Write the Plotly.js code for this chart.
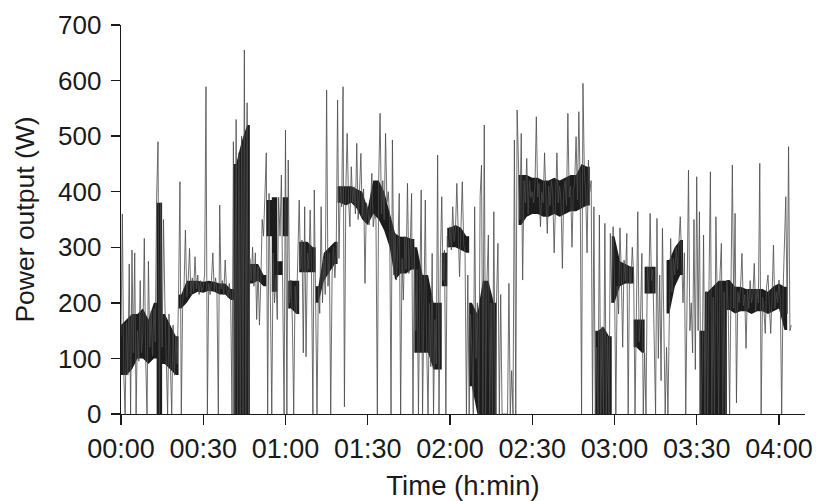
<!DOCTYPE html>
<html>
<head>
<meta charset="utf-8">
<script src="https://cdn.plot.ly/plotly-3.0.1.min.js"></script>
<style>
html,body{margin:0;padding:0;background:#ffffff;}
#chart{width:818px;height:501px;}
</style>
</head>
<body>
<div id="chart"></div>
<script>
// Sampling interval of the recorded power signal (minutes)
const sampleStepMin = 0.5;

// Power output (W), one half hour per array
const p0000 = [140,360,75,0,165,70,270,0,295,110, 290,0,150,95,240,110,145,316,100,0,
  275,120,185,105,190,130,390,490,0,380, 120,350,200,90,0,180,85,0,160,70,
  140,90,215,418,0,200,230,331,210,240, 298,215,245,220,283,225,250,215,240,220];
const p0030 = [230,250,589,0,235,215,240,290,220,245, 218,0,376,225,240,215,277,225,210,235,
  210,0,490,0,530,0,470,0,500,0, 655,0,560,0,280,240,300,230,290,170,
  265,160,240,350,320,385,470,0,397,205, 0,290,200,250,170,390,320,430,200,0];
const p0100 = [511,0,457,200,241,170,0,230,180,300, 385,260,313,110,373,103,290,260,367,250,
  0,403,240,0,229,181,373,200,280,215, 583,230,290,0,250,301,245,290,565,280,
  409,373,589,13,400,505,385,337,445,380, 409,360,487,350,400,469,355,405,235,380];
const p0130 = [370,340,373,433,337,360,350,0,421,541, 360,420,349,505,380,400,350,0,493,250,
  325,241,300,397,0,280,205,319,260,415, 253,300,397,0,301,150,260,0,230,403,
  0,190,385,120,0,199,85,289,0,170, 90,466,0,280,391,240,295,0,320,300];
const p0200 = [337,295,373,310,330,415,300,247,335,418, 305,290,0,250,0,180,110,0,373,100,
  200,0,391,448,0,520,0,241,322,0, 200,0,364,0,211,307,0,215,0,0,
  0,0,0,235,0,78,0,493,0,547, 433,350,505,241,420,380,460,360,420,390];
const p0230 = [400,380,410,535,390,415,337,400,380,470, 390,325,410,375,420,395,290,400,470,380,
  410,385,262,400,420,375,541,390,410,300, 400,420,499,385,544,410,0,595,440,400,
  290,457,400,420,0,373,0,120,0,358, 0,157,0,343,0,140,0,325,200,337];
const p0300 = [250,0,230,180,335,250,120,277,240,325, 0,265,235,300,250,0,200,364,130,170,
  289,0,110,0,265,217,361,240,260,150, 0,352,100,250,60,334,150,0,120,0,
  170,316,220,280,250,300,260,313,355,280, 200,290,0,217,439,150,200,110,350,80];
const p0330 = [427,150,364,0,85,322,0,220,0,240, 436,0,210,0,355,200,0,250,307,0,
  220,0,241,187,0,230,448,190,361,20, 220,200,230,289,195,215,118,225,190,240,
  200,215,271,185,225,200,451,0,210,190, 145,230,250,195,145,215,304,190,220,200];
const p0400 = [241,205,0,220,316,391,180,481,150,160];

// Dense (black) core of the trace, low and high edge (W) every 2 minutes
const bandStepMin = 2;
const bandLow = [70,70,80,100,100,90,100,0,90,80,
  70,190,200,215,220,218,222,220,215,215,
  205,0,0,0,235,240,230,320,220,250,
  320,190,180,255,255,255,200,240,255,270,
  380,375,380,370,350,340,360,350,330,300,
  241,253,253,260,110,110,110,80,80,230,
  300,300,295,290,50,0,0,0,0,0,
  0,0,0,340,355,360,360,355,355,360,
  355,360,365,365,370,375,0,0,0,0,
  200,230,235,235,120,110,217,217,0,0,
  181,229,250,0,0,0,0,0,0,0,
  0,187,181,185,185,180,185,185,180,185,
  190,151,0];
const bandHigh = [160,170,180,180,190,170,200,380,180,160,
  140,215,240,240,240,238,240,238,235,235,
  225,450,490,520,270,270,250,385,390,275,
  390,240,240,310,310,300,230,290,300,310,
  410,410,410,405,400,370,420,420,400,360,
  325,319,319,315,300,250,250,200,200,290,
  335,340,335,320,200,180,240,240,200,0,
  0,0,0,430,430,425,425,420,420,425,
  420,425,430,430,450,445,0,150,157,140,
  320,275,270,265,170,170,265,265,0,0,
  277,300,313,0,0,0,150,220,230,240,
  240,241,229,229,225,225,225,225,220,230,
  235,229,0];

// Axis ticks
const tickMinutes = [0,30,60,90,120,150,180,210,240];
const tickLabels = ['00:00','00:30','01:00','01:30','02:00','02:30','03:00','03:30','04:00'];
const yTickValues = [0,100,200,300,400,500,600,700];

const power = [].concat(p0000,p0030,p0100,p0130,p0200,p0230,p0300,p0330,p0400);
const minutes = power.map((_, i) => i * sampleStepMin);

// One closed outline per continuous run of the dense core; a run is split
// where the core jumps, so that jumps are drawn as vertical edges.
const bandX = [], bandY = [];
(function () {
  const n = bandLow.length, half = bandStepMin / 2, jump = 60;
  const active = k => bandHigh[k] > bandLow[k];
  const outline = (a, b) => {
    const t0 = a * bandStepMin - half, t1 = b * bandStepMin + half;
    bandX.push(t0); bandY.push(bandLow[a]);
    for (let k = a; k <= b; k++) { bandX.push(k * bandStepMin); bandY.push(bandLow[k]); }
    bandX.push(t1); bandY.push(bandLow[b]);
    bandX.push(t1); bandY.push(bandHigh[b]);
    for (let k = b; k >= a; k--) { bandX.push(k * bandStepMin); bandY.push(bandHigh[k]); }
    bandX.push(t0); bandY.push(bandHigh[a]);
    bandX.push(t0); bandY.push(bandLow[a]);
    bandX.push(null); bandY.push(null);
  };
  let k = 0;
  while (k < n) {
    if (!active(k)) { k++; continue; }
    let j = k;
    while (j + 1 < n && active(j + 1) &&
           Math.abs(bandLow[j + 1] - bandLow[j]) <= jump &&
           Math.abs(bandHigh[j + 1] - bandHigh[j]) <= jump) j++;
    outline(k, j);
    k = j + 1;
  }
})();

const ink = '#1a1a1a';
const fontFamily = '"Liberation Sans", Arial, Helvetica, sans-serif';

const bandTrace = {
  x: bandX,
  y: bandY,
  type: 'scatter',
  mode: 'lines',
  fill: 'toself',
  fillcolor: '#1c1c1c',
  line: {width: 0, color: '#1c1c1c'},
  connectgaps: false,
  hoverinfo: 'skip'
};

const trace = {
  x: minutes,
  y: power,
  type: 'scatter',
  mode: 'lines',
  line: {color: '#4a4a4a', width: 0.8},
  hoverinfo: 'skip'
};

const layout = {
  width: 818,
  height: 501,
  margin: {l: 121, r: 13, t: 25, b: 87, pad: 0},
  paper_bgcolor: '#ffffff',
  plot_bgcolor: '#ffffff',
  showlegend: false,
  font: {family: fontFamily, size: 26, color: ink},
  xaxis: {
    range: [0, 249.5],
    tickmode: 'array',
    tickvals: tickMinutes,
    ticktext: tickLabels,
    ticks: 'outside',
    ticklen: 10,
    tickwidth: 1.3,
    tickcolor: ink,
    showline: true,
    linecolor: ink,
    linewidth: 1.3,
    showgrid: false,
    zeroline: false,
    tickfont: {family: fontFamily, size: 27, color: ink},
    title: {text: 'Time (h:min)', font: {family: fontFamily, size: 27.5, color: ink}, standoff: 15},
    fixedrange: true
  },
  yaxis: {
    range: [0, 700],
    tickmode: 'array',
    tickvals: yTickValues,
    ticks: 'outside',
    ticklen: 9,
    tickwidth: 1.3,
    tickcolor: ink,
    ticklabelstandoff: 4,
    showline: true,
    linecolor: ink,
    linewidth: 1.3,
    showgrid: false,
    zeroline: false,
    tickfont: {family: fontFamily, size: 26, color: ink},
    title: {text: 'Power output (W)', font: {family: fontFamily, size: 26.5, color: ink}, standoff: 15},
    fixedrange: true
  }
};

Plotly.newPlot('chart', [bandTrace, trace], layout, {displayModeBar: false, staticPlot: true});
</script>
</body>
</html>
